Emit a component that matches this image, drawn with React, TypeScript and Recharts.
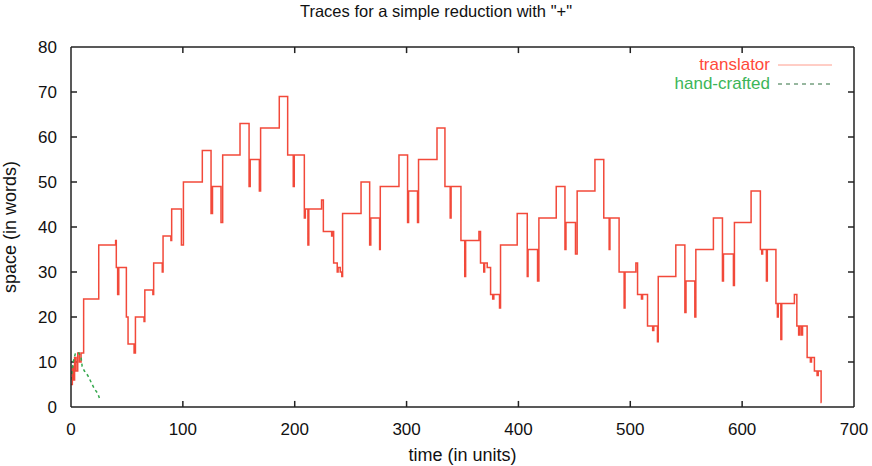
import React from "react";
import { LineChart, Line, XAxis, YAxis, Label, ReferenceLine } from "recharts";

const xTicks = [0, 100, 200, 300, 400, 500, 600, 700];
const yTicks = [0, 10, 20, 30, 40, 50, 60, 70, 80];

const translatorTime = [
  0, 1.2, 2.2, 3.2, 4.5, 6, 7.5, 9,
  11.3, 24.8, 39.9, 40.5, 41.7, 42.7,
  49.5, 51, 56.4, 57.6, 65.3, 66, 73.2, 73.9, 81.6, 82.3, 89.3, 90,
  98.7, 100.5, 117.4, 125.2, 126.5, 134.1, 135.6, 151.1, 159.2, 160.2,
  168.4, 169.5, 186.2, 193.7, 198.7, 199.6, 208.6, 209.5, 211.8, 212.6,
  224, 225.6, 233, 233.8, 234.8, 238, 238.8, 240.7, 242.1, 242.8,
  259.3, 267, 268, 275.9, 276.5, 293.2, 300.9, 301.8, 309.8, 310.7,
  327.2, 334.3, 339, 339.8, 348.6, 352, 352.8,
  364.7, 366.1, 369, 369.8, 372.1, 375.1, 377, 378, 383.1, 384,
  398.9, 407.9, 408.6, 417.1, 418.3, 433.8, 441.6, 442.5, 451, 452.5,
  468.4, 476.3, 481.1, 481.8, 490, 494.5, 495.3,
  505, 506.5, 510, 511, 515.4, 520, 521, 524.3, 525,
  540.7, 548.8, 549.8, 557.7, 558.6, 574.3, 582.4, 583.3, 592.2, 593.1,
  608, 616.3, 617.5, 618.3, 621.7, 622.5,
  630.2, 631.5, 632.3, 634.6, 635.4,
  646.7, 648.9, 650.5, 651.5, 653, 654,
  658.1, 661, 662, 664.6, 667, 668, 670.6, 671,
];
const translatorSpace = [
  5, 9, 6, 11, 8, 12, 10, 12,
  24, 36, 37, 31, 25, 31,
  20, 14, 12, 20, 19, 26, 25, 32, 30, 38, 37, 44,
  36, 50, 57, 43, 49, 41, 56, 63, 49, 55,
  48, 62, 69, 56, 49, 56, 42, 44, 36, 44,
  46, 39, 38, 39, 32, 30, 31, 30, 29, 43,
  50, 36, 42, 35, 49, 56, 41, 48, 41, 55,
  62, 49, 42, 49, 37, 29, 37,
  39, 32, 30, 32, 31, 25, 24, 25, 22, 36,
  43, 29, 35, 28, 42, 49, 35, 41, 34, 48,
  55, 42, 35, 42, 30, 22, 30,
  32, 25, 24, 25, 18, 17, 18, 14.5, 29,
  36, 21, 28, 20, 35, 42, 28, 34, 27, 41,
  48, 35, 34, 35, 28, 35,
  23, 20, 23, 15, 23,
  25, 18, 16, 18, 16, 18,
  11, 10, 11, 8, 7, 8, 1, 1,
];

const handTime = [0, 2, 4, 7, 9, 10, 12, 15, 18, 21, 24, 26];
const handSpace = [6, 10, 12, 12, 11, 9, 8, 7, 5.5, 4, 3, 1.5];

const translatorData = translatorTime.map((t, i) => ({ t, v: translatorSpace[i] }));
const handData = handTime.map((t, i) => ({ t, v: handSpace[i] }));

const FONT = "'Liberation Sans', Arial, Helvetica, sans-serif";
const RED = "#f2493a";
const GREEN = "#35a84e";

// inward tick mark lengths in data units (about 6px)
const X_MAX = 700;
const Y_MAX = 80;
const TICK_DX = 5.4;
const TICK_DY = 1.35;

const LegendBox = () => (
  <div
    style={{
      position: "absolute",
      top: 55,
      left: 600,
      width: 240,
      fontFamily: FONT,
      fontSize: 17,
      lineHeight: "19px",
    }}
  >
    <div style={{ display: "flex", justifyContent: "flex-end", alignItems: "center" }}>
      <span style={{ color: "#ff4a3a" }}>translator</span>
      <svg width={54} height={19} style={{ marginLeft: 8, marginRight: 8 }}>
        <line x1={0} y1={10} x2={54} y2={10} stroke="#ff9c8c" strokeWidth={1} />
      </svg>
    </div>
    <div style={{ display: "flex", justifyContent: "flex-end", alignItems: "center" }}>
      <span style={{ color: "#3cb558" }}>hand-crafted</span>
      <svg width={54} height={19} style={{ marginLeft: 8, marginRight: 8 }}>
        <line x1={0} y1={10} x2={54} y2={10} stroke="#2e6e3e" strokeWidth={1} strokeDasharray="4 4" />
      </svg>
    </div>
  </div>
);

export default function App() {
  const tickStyle = { fontFamily: FONT, fontSize: 17, fill: "#111" };
  const innerX = xTicks.slice(1, -1);
  const innerY = yTicks.slice(1, -1);
  return (
    <div style={{ position: "absolute", left: 0, top: 0, width: 872, height: 466, background: "#fff" }}>
      <div
        style={{
          position: "absolute",
          left: 0,
          top: 2,
          width: 872,
          textAlign: "center",
          fontFamily: FONT,
          fontSize: 16.5,
          color: "#111",
        }}
      >
        Traces for a simple reduction with "+"
      </div>
      <LineChart
        width={872}
        height={466}
        margin={{ top: 46, right: 17, bottom: 0, left: 0 }}
      >
        <XAxis
          xAxisId="b"
          dataKey="t"
          type="number"
          domain={[0, X_MAX]}
          ticks={xTicks}
          allowDataOverflow
          height={59}
          tick={tickStyle}
          tickLine={false}
          tickMargin={10}
          stroke="#222"
          strokeWidth={1.5}
        >
          <Label
            value="time (in units)"
            position="insideBottom"
            offset={5}
            style={{ fontFamily: FONT, fontSize: 18, fill: "#111" }}
          />
        </XAxis>
        <XAxis
          xAxisId="top"
          orientation="top"
          dataKey="t"
          type="number"
          domain={[0, X_MAX]}
          ticks={xTicks}
          height={1}
          tick={false}
          tickLine={false}
          stroke="#222"
          strokeWidth={1.5}
        />
        <YAxis
          yAxisId="l"
          type="number"
          domain={[0, Y_MAX]}
          ticks={yTicks}
          width={71}
          tick={tickStyle}
          tickLine={false}
          tickMargin={8}
          stroke="#222"
          strokeWidth={1.5}
        >
          <Label
            value="space (in words)"
            angle={-90}
            position="insideLeft"
            offset={10}
            style={{ fontFamily: FONT, fontSize: 18, fill: "#111", textAnchor: "middle" }}
          />
        </YAxis>
        <YAxis
          yAxisId="r"
          orientation="right"
          type="number"
          domain={[0, Y_MAX]}
          ticks={yTicks}
          width={1}
          tick={false}
          tickLine={false}
          stroke="#222"
          strokeWidth={1.5}
        />
        {innerX.map((x) => (
          <ReferenceLine
            key={"bx" + x}
            xAxisId="b"
            yAxisId="l"
            segment={[{ x, y: 0 }, { x, y: TICK_DY }]}
            stroke="#222"
            strokeWidth={1.5}
            ifOverflow="visible"
          />
        ))}
        {innerX.map((x) => (
          <ReferenceLine
            key={"tx" + x}
            xAxisId="b"
            yAxisId="l"
            segment={[{ x, y: Y_MAX }, { x, y: Y_MAX - TICK_DY }]}
            stroke="#222"
            strokeWidth={1.5}
            ifOverflow="visible"
          />
        ))}
        {innerY.map((y) => (
          <ReferenceLine
            key={"ly" + y}
            xAxisId="b"
            yAxisId="l"
            segment={[{ x: 0, y }, { x: TICK_DX, y }]}
            stroke="#222"
            strokeWidth={1.5}
            ifOverflow="visible"
          />
        ))}
        {innerY.map((y) => (
          <ReferenceLine
            key={"ry" + y}
            xAxisId="b"
            yAxisId="l"
            segment={[{ x: X_MAX, y }, { x: X_MAX - TICK_DX, y }]}
            stroke="#222"
            strokeWidth={1.5}
            ifOverflow="visible"
          />
        ))}
        <Line
          xAxisId="b"
          yAxisId="l"
          data={translatorData}
          dataKey="v"
          name="translator"
          type="stepAfter"
          stroke={RED}
          strokeWidth={1.5}
          dot={false}
          isAnimationActive={false}
        />
        <Line
          xAxisId="b"
          yAxisId="l"
          data={handData}
          dataKey="v"
          name="hand-crafted"
          type="linear"
          stroke={GREEN}
          strokeWidth={1.5}
          strokeDasharray="3 3"
          dot={false}
          isAnimationActive={false}
        />
      </LineChart>
      <LegendBox />
    </div>
  );
}
